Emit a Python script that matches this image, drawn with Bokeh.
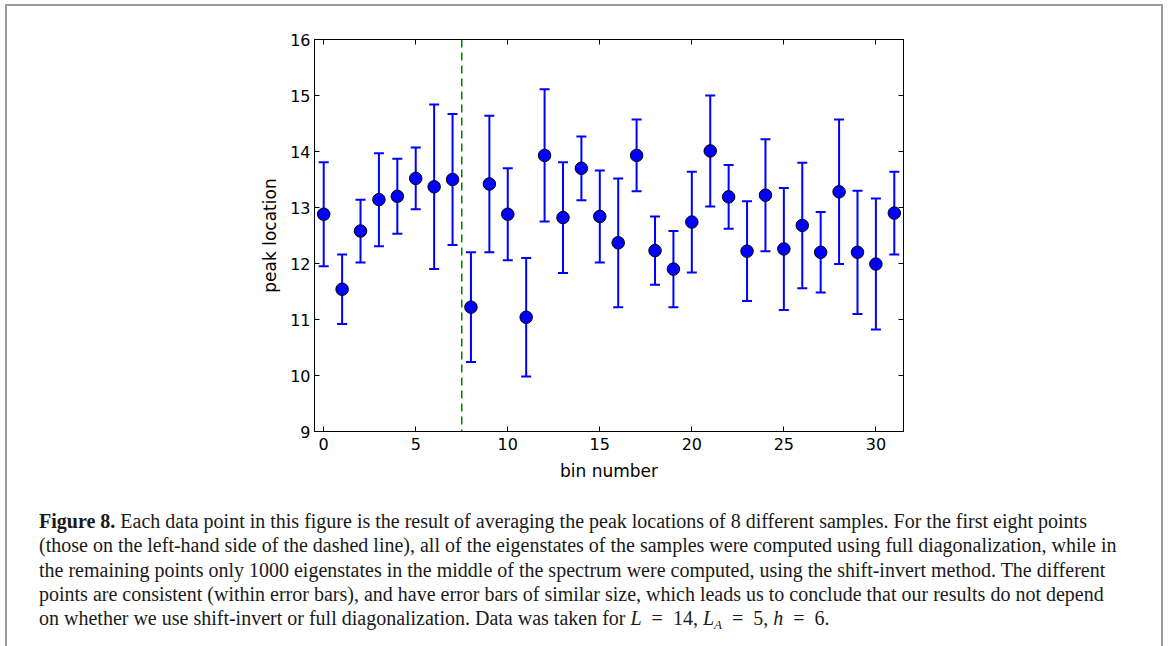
from bokeh.plotting import figure
from bokeh.models import (Range1d, FixedTicker, LinearAxis, Whisker, TeeHead, Span,
                          ColumnDataSource, Div)
from bokeh.layouts import column
from bokeh.embed import file_html
from bokeh.resources import INLINE

# ---------------- data ----------------
bins = list(range(32))
peak = [12.88, 11.54, 12.58, 13.14, 13.20, 13.52, 13.37, 13.50, 11.22, 13.42, 12.88,
        11.04, 13.93, 12.82, 13.70, 12.84, 12.37, 13.93, 12.23, 11.90, 12.74, 14.01,
        13.19, 12.22, 13.22, 12.26, 12.68, 12.20, 13.28, 12.20, 11.99, 12.90]
err = [0.93, 0.62, 0.56, 0.83, 0.67, 0.55, 1.47, 1.17, 0.98, 1.22, 0.82, 1.06, 1.18,
       0.99, 0.57, 0.82, 1.15, 0.64, 0.61, 0.68, 0.90, 0.99, 0.57, 0.89, 1.00, 1.09,
       1.12, 0.72, 1.29, 1.10, 1.17, 0.74]
divider = 7.5
x_ticks = [0, 5, 10, 15, 20, 25, 30]
y_ticks = [9, 10, 11, 12, 13, 14, 15, 16]
x_label = "bin number"
y_label = "peak location"

caption_html = (
    "<b>Figure\u00a08.</b> Each data point in this figure is the result of averaging the peak locations of 8 different samples. For the first eight points<br>"
    "(those on the left-hand side of the dashed line), all of the eigenstates of the samples were computed using full diagonalization, while in<br>"
    "the remaining points only 1000 eigenstates in the middle of the spectrum were computed, using the shift-invert method. The different<br>"
    "points are consistent (within error bars), and have error bars of similar size, which leads us to conclude that our results do not depend<br>"
    "on whether we use shift-invert or full diagonalization. Data was taken for "
    "<i>L</i>\u2002=\u200214, <i>L</i><i style='font-size:13px;position:relative;top:4px'>A</i>\u2002=\u20025, <i>h</i>\u2002=\u20026."
)

# ---------------- main plot ----------------
W = 1154
H1 = 484
src = ColumnDataSource(dict(
    x=bins, y=peak,
    upper=[p + e for p, e in zip(peak, err)],
    lower=[p - e for p, e in zip(peak, err)],
))

p = figure(width=W, height=H1, output_backend="svg", toolbar_location=None,
           x_range=Range1d(-0.5, 31.5), y_range=Range1d(9, 16),
           min_border_left=307, min_border_right=258, min_border_top=33,
           min_border_bottom=59)
p.outline_line_color = "black"
p.outline_line_width = 1
p.grid.visible = False
p.background_fill_color = "white"
p.border_fill_color = "white"

bx = p.below[0]
ly = p.left[0]
top_axis = LinearAxis(major_label_overrides={t: "" for t in x_ticks})
right_axis = LinearAxis(major_label_overrides={t: "" for t in y_ticks})
p.add_layout(top_axis, "above")
p.add_layout(right_axis, "right")

for ax in (bx, top_axis):
    ax.ticker = FixedTicker(ticks=x_ticks)
for ax in (ly, right_axis):
    ax.ticker = FixedTicker(ticks=y_ticks)
for ax in (bx, ly, top_axis, right_axis):
    ax.major_tick_in = 5
    ax.major_tick_out = 0
    ax.minor_tick_in = 0
    ax.minor_tick_out = 0
    ax.axis_line_color = "black"
    ax.major_tick_line_color = "black"
    ax.major_label_text_font = "DejaVu Sans"
    ax.major_label_text_font_size = "16px"
    ax.major_label_text_color = "black"
    ax.axis_label_text_font = "DejaVu Sans"
    ax.axis_label_text_font_size = "17px"
    ax.axis_label_text_font_style = "normal"
    ax.axis_label_text_color = "black"

bx.major_label_standoff = 6
ly.major_label_standoff = 4
bx.axis_label = x_label
ly.axis_label = y_label
bx.axis_label_standoff = 8
ly.axis_label_standoff = 7

p.add_layout(Span(location=divider, dimension="height", line_color="#008000",
                  line_width=1.5, line_dash="8 5"))

head = dict(size=10, line_color="#0000ff", line_width=2)
p.add_layout(Whisker(source=src, base="x", upper="upper", lower="lower",
                     line_color="#0000ff", line_width=2,
                     upper_head=TeeHead(**head), lower_head=TeeHead(**head)))
p.scatter("x", "y", source=src, size=12.5, fill_color="#0000ff",
          line_color="black", line_width=1)

# ---------------- caption ----------------
H2 = 646 - 6 - H1
cap = Div(
    text=("<div style=\"font-family:'Liberation Serif',serif;font-size:20px;"
          "line-height:24.3px;color:#1a1a1a;white-space:nowrap;"
          "padding:14px 0 0 27px;\">" + caption_html + "</div>"),
    width=W, height=H2)

layout = column(p, cap, width=W + 4,
                styles={"border-left": "2px solid #9c9c9c",
                        "border-right": "2px solid #9c9c9c",
                        "border-top": "2px solid #9c9c9c",
                        "box-sizing": "border-box",
                        "margin-left": "5px", "margin-top": "4px"})

open("out.html", "w").write(file_html(layout, INLINE))
